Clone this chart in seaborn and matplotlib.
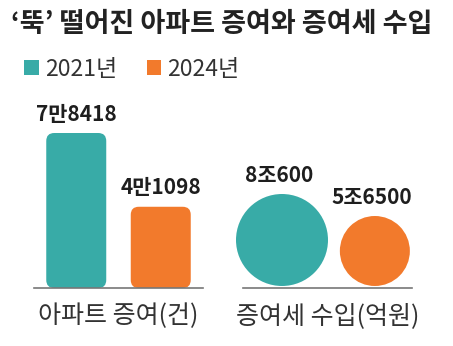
import numpy as np
import pandas as pd
import matplotlib
matplotlib.use("Agg")
import matplotlib.pyplot as plt
import seaborn as sns
from matplotlib.patches import FancyBboxPatch, Patch

# ---- data ----
years = ["2021년", "2024년"]
gift_counts = [78418, 41098]            # 아파트 증여(건)
gift_count_labels = ["7만8418", "4만1098"]
tax_revenue = [80600, 56500]            # 증여세 수입(억원)
tax_revenue_labels = ["8조600", "5조6500"]
title = "‘뚝’ 떨어진 아파트 증여와 증여세 수입"
xlabel_left = "아파트 증여(건)"
xlabel_right = "증여세 수입(억원)"

colors = ["#38ABA7", "#F27A2C"]
palette = dict(zip(years, colors))

sns.set_theme(style="white")
plt.rcParams["font.family"] = ["Noto Sans CJK KR", "DejaVu Sans"]

W, H = 453, 346
dpi = 100
fig = plt.figure(figsize=(W / dpi, H / dpi), dpi=dpi)
fig.patch.set_facecolor("white")

def px_axes(x0, y_top, x1, y_bot):
    return fig.add_axes([x0 / W, 1 - y_bot / H, (x1 - x0) / W, (y_bot - y_top) / H])

# ---- left: bars ----
axL = px_axes(34, 133, 203, 288)
dfL = pd.DataFrame({"year": years, "value": gift_counts})
sns.barplot(data=dfL, x="year", y="value", hue="year", palette=palette,
            width=0.71, ax=axL, legend=False, saturation=1)
axL.set_xlim(-0.5, 1.5)
axL.set_ylim(0, max(gift_counts))

# round the bar corners
bbox = axL.get_window_extent()
x_per_px = 2.0 / bbox.width
y_per_px = max(gift_counts) / bbox.height
rad_px = 8
for p, col in zip(list(axL.patches), colors):
    x, y = p.get_x(), p.get_y()
    w, h = p.get_width(), p.get_height()
    p.remove()
    fb = FancyBboxPatch((x, y), w, h,
                        boxstyle=f"round,pad=0,rounding_size={rad_px * x_per_px}",
                        mutation_aspect=y_per_px / x_per_px,
                        facecolor=col, edgecolor="none", zorder=2)
    axL.add_patch(fb)

for i, (v, lab) in enumerate(zip(gift_counts, gift_count_labels)):
    axL.annotate(lab, (i, v), xytext=(0, 6), textcoords="offset points",
                 ha="center", va="bottom", fontsize=15, fontweight="bold",
                 color="#1e1e1e", annotation_clip=False)

# ---- right: circles ----
axR = px_axes(243, 133, 412, 288)
bbR = axR.get_window_extent()
d_max_px, d_min_px = 92, 70
s_max = (d_max_px * 72 / dpi) ** 2
s_min = (d_min_px * 72 / dpi) ** 2
# radius of each circle (px) from the size mapping, so circles sit on the baseline
vmin, vmax = min(tax_revenue), max(tax_revenue)
sizes_pts = [s_min + (v - vmin) / (vmax - vmin) * (s_max - s_min) for v in tax_revenue]
radii_px = [np.sqrt(s) / 2 * dpi / 72 for s in sizes_pts]
dfR = pd.DataFrame({"pos": [0, 1], "year": years, "value": tax_revenue,
                    "yc": [r + 2 for r in radii_px]})
sns.scatterplot(data=dfR, x="pos", y="yc", hue="year", palette=palette,
                size="value", sizes=(s_min, s_max), linewidth=0,
                ax=axR, legend=False, zorder=2, clip_on=False)
axR.set_xlim(-0.42, 1.40)
axR.set_ylim(0, bbR.height)
for i, (r, lab) in enumerate(zip(dfR["yc"], tax_revenue_labels)):
    axR.annotate(lab, (i - 0.03, r + radii_px[i]), xytext=(0, 6), textcoords="offset points",
                 ha="center", va="bottom", fontsize=15, fontweight="bold",
                 color="#1e1e1e", annotation_clip=False)

for ax, xl in [(axL, xlabel_left), (axR, xlabel_right)]:
    for s in ["top", "right", "left"]:
        ax.spines[s].set_visible(False)
    ax.spines["bottom"].set_color("#777777")
    ax.spines["bottom"].set_linewidth(1.2)
    ax.set_xticks([])
    ax.set_yticks([])
    ax.set_ylabel("")
    ax.set_xlabel(xl, fontsize=18, color="#333333", labelpad=11)
    ax.set_facecolor("none")

# ---- title & legend ----
fig.text(11 / W, 1 - 24 / H, title, fontsize=19.5, fontweight="bold",
         color="#222222", ha="left", va="center")

handles = [Patch(facecolor=c, edgecolor="none") for c in colors]
fig.legend(handles, years, loc="center left", bbox_to_anchor=(24 / W, 1 - 69 / H),
           ncol=2, frameon=False, fontsize=16.5, handlelength=0.65, handleheight=0.65,
           handletextpad=0.25, columnspacing=1.3, labelcolor="#333333",
           borderaxespad=0, borderpad=0)

fig.savefig("out.png", dpi=dpi, facecolor="white")
